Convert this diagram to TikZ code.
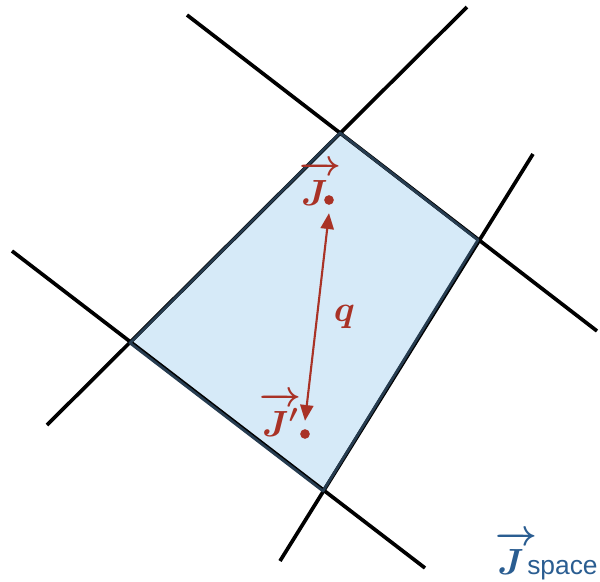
\documentclass[tikz,border=0pt]{standalone}
\usepackage{amsmath,bm}
\usepackage{fontspec}
\newfontfamily\labelsans{Liberation Sans}
\usepackage{tikz}
\usetikzlibrary{arrows.meta}
\definecolor{cellfill}{HTML}{D6EAF8}
\definecolor{celledge}{HTML}{263C50}
\definecolor{jred}{HTML}{A93226}
\definecolor{jblue}{HTML}{2A5D91}
\newcommand{\vecJ}[2][5mu]{\bm{\overrightarrow{\rule{0pt}{0.76em}#2\mkern#1}}}

\begin{document}
\begin{tikzpicture}[x=0.02cm,y=-0.02cm,
  wall/.style={draw=black,line width=2.1pt},
  cell/.style={draw=celledge,line width=1.6pt,line join=round},
  spot/.style={circle,fill=jred,inner sep=0pt,minimum size=5.5pt},
  jlab/.style={text=jred,font=\fontsize{22}{24}\selectfont,inner sep=0pt}]
  \useasboundingbox (0,0) rectangle (600,582);
  % vertices of the cell
  \coordinate (top) at (340,133);
  \coordinate (rgt) at (478,240);
  \coordinate (bot) at (323,491);
  \coordinate (lft) at (130,343);
  % far ends of the walls
  \coordinate (a1) at (187,15);  \coordinate (a2) at (597,331);
  \coordinate (b1) at (467,7);   \coordinate (b2) at (47,425);
  \coordinate (c1) at (12,251);  \coordinate (c2) at (425,568);
  \coordinate (d1) at (533,154); \coordinate (d2) at (280,561);
  \path[fill=cellfill] (top) -- (rgt) -- (bot) -- (lft) -- cycle;
  \draw[wall] (a1) -- (a2);
  \draw[wall] (b1) -- (b2);
  \draw[wall] (c1) -- (c2);
  \draw[wall] (d1) -- (d2);
  \draw[cell] (top) -- (rgt) -- (bot) -- (lft) -- cycle;
  % the two points and their distance
  \node[spot] (jp) at (329,200) {};
  \node[spot] (jq) at (305,434) {};
  \node[jlab,anchor=base west] (jplab) at (299,205) {$\vecJ{J}$};
  \node[jlab,anchor=base west] (jqlab) at (259,436) {$\vecJ[0mu]{J'}$};
  \draw[jred,line width=1.2pt,{Triangle[length=9pt,width=7.5pt]}-{Triangle[length=9pt,width=7.5pt]}]
    ([yshift=-7.5pt]jp.center) -- ([yshift=7.5pt]jq.center)
    node[midway,right=9pt,jlab] (qlab) {$\bm{q}$};
  \node[text=jblue,anchor=base east,inner sep=0pt] (space) at (598,574)
    {{\fontsize{21}{24}\selectfont$\vecJ{J}\mkern-5mu$}{\labelsans\fontsize{15}{18}\selectfont space}};
\end{tikzpicture}
\end{document}
